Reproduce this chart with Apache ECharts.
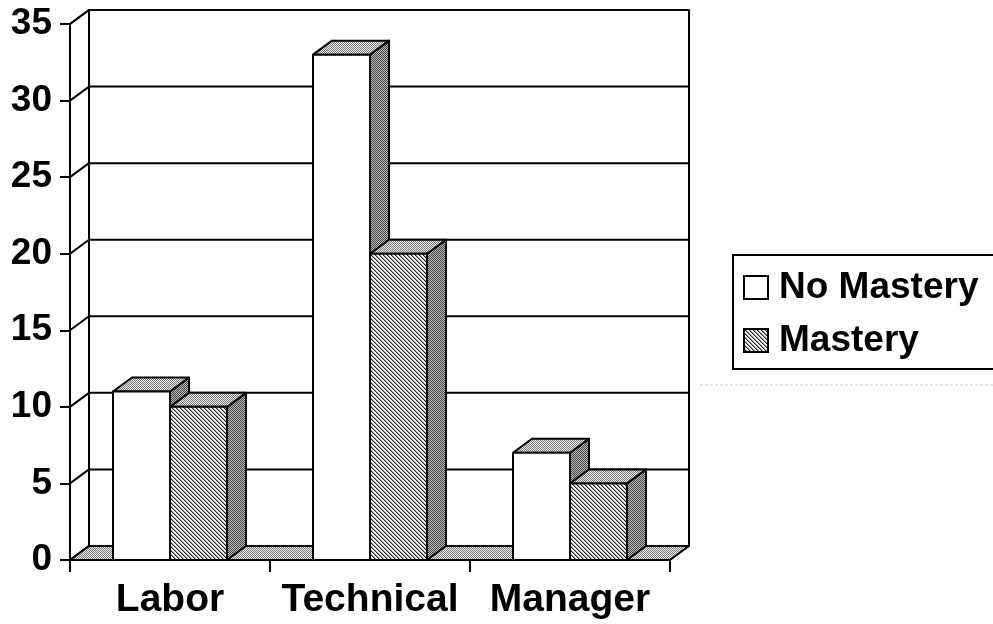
<!DOCTYPE html>
<html>
<head>
<meta charset="utf-8">
<script src="https://cdn.jsdelivr.net/npm/echarts@6/dist/echarts.min.js"></script>
<style>
html,body{margin:0;padding:0;background:#fff;}
#chart{width:993px;height:624px;}
</style>
</head>
<body>
<div id="chart"></div>
<script>
// ---- data ----
const categories = ['Labor', 'Technical', 'Manager'];
const seriesNames = ['No Mastery', 'Mastery'];
const noMastery = [11, 33, 7];
const mastery = [10, 20, 5];
const yTicks = [0, 5, 10, 15, 20, 25, 30, 35];

// ---- style constants ----
const FONT = "'Liberation Sans', Arial, sans-serif";
const DX = 19, DY = -14;          // 3D depth offset (px)
const BAR_FRAC = 0.285;           // bar width as fraction of band
const LW = 2;

function pattern(w, h, draw) {
  const c = document.createElement('canvas');
  c.width = w; c.height = h;
  const g = c.getContext('2d');
  draw(g);
  return { image: c, repeat: 'repeat' };
}
const hatch = pattern(4, 4, g => {
  g.fillStyle = '#f4f4f4'; g.fillRect(0, 0, 4, 4);
  for (let i = 0; i < 4; i++) {
    g.fillStyle = '#222'; g.fillRect(i, i, 1, 1);
    g.fillStyle = '#999'; g.fillRect((i + 1) % 4, i, 1, 1);
  }
});
const stippleDark = pattern(2, 2, g => {
  g.fillStyle = '#bbb'; g.fillRect(0, 0, 2, 2);
  g.fillStyle = '#444'; g.fillRect(0, 0, 1, 1); g.fillRect(1, 1, 1, 1);
});
const stippleLight = pattern(2, 2, g => {
  g.fillStyle = '#eee'; g.fillRect(0, 0, 2, 2);
  g.fillStyle = '#777'; g.fillRect(0, 0, 1, 1); g.fillRect(1, 1, 1, 1);
});

const frontFill = ['#ffffff', hatch];

function poly(points, fill) {
  return { type: 'polygon', shape: { points }, style: { fill, stroke: '#000', lineWidth: LW, lineJoin: 'round' } };
}
function line(x1, y1, x2, y2) {
  return { type: 'line', shape: { x1, y1, x2, y2 }, style: { stroke: '#000', lineWidth: LW } };
}

function renderFrame(params, api) {
  const bw = api.size([1, 0])[0];
  const xL = api.coord([0, 0])[0] - bw / 2;
  const xR = api.coord([categories.length - 1, 0])[0] + bw / 2;
  const y0 = api.coord([0, yTicks[0]])[1];
  const yT = api.coord([0, yTicks[yTicks.length - 1]])[1];
  const ch = [];
  // back wall
  ch.push(poly([[xL + DX, yT + DY], [xR + DX, yT + DY], [xR + DX, y0 + DY], [xL + DX, y0 + DY]], '#fff'));
  // side wall
  ch.push(poly([[xL, yT], [xL + DX, yT + DY], [xL + DX, y0 + DY], [xL, y0]], '#fff'));
  yTicks.forEach(t => {
    const y = api.coord([0, t])[1];
    ch.push(line(xL + DX, y + DY, xR + DX, y + DY));
    ch.push(line(xL, y, xL + DX, y + DY));
  });
  // floor
  ch.push(poly([[xL, y0], [xR, y0], [xR + DX, y0 + DY], [xL + DX, y0 + DY]], stippleLight));
  return { type: 'group', children: ch };
}

function makeBarRenderer(sIdx) {
  return function (params, api) {
    const cat = api.value(0), v = api.value(1);
    const top = api.coord([cat, v]);
    const base = api.coord([cat, 0]);
    const bw = api.size([1, 0])[0];
    const w = bw * BAR_FRAC;
    const x0 = sIdx === 0 ? top[0] - w : top[0];
    const x1 = x0 + w;
    const yv = top[1], y0 = base[1];
    return {
      type: 'group',
      children: [
        poly([[x1, yv], [x1 + DX, yv + DY], [x1 + DX, y0 + DY], [x1, y0]], stippleDark),
        poly([[x0, yv], [x1, yv], [x1 + DX, yv + DY], [x0 + DX, yv + DY]], stippleLight),
        poly([[x0, yv], [x1, yv], [x1, y0], [x0, y0]], frontFill[sIdx])
      ]
    };
  };
}

const chart = echarts.init(document.getElementById('chart'), null, { renderer: 'canvas' });
chart.setOption({
  animation: false,
  backgroundColor: '#fff',
  grid: { left: 70, right: 323, top: 24, bottom: 64, containLabel: false },
  xAxis: {
    type: 'category',
    data: categories,
    axisLine: { show: true, lineStyle: { color: '#000', width: LW } },
    axisTick: { show: true, interval: 0, length: 12, lineStyle: { color: '#000', width: LW } },
    axisLabel: { interval: 0, hideOverlap: false, margin: 21, color: '#000', fontFamily: FONT, fontWeight: 'bold', fontSize: 39 },
    splitLine: { show: false }
  },
  yAxis: {
    type: 'value',
    min: yTicks[0], max: yTicks[yTicks.length - 1], interval: 5,
    axisLine: { show: true, lineStyle: { color: '#000', width: LW } },
    axisTick: { show: true, length: 10, lineStyle: { color: '#000', width: LW } },
    axisLabel: { margin: 18, color: '#000', fontFamily: FONT, fontWeight: 'bold', fontSize: 37 },
    splitLine: { show: false }
  },
  legend: {
    orient: 'vertical',
    left: 733, top: 255,
    padding: [12, 60, 8, 10],
    borderColor: '#000', borderWidth: 2,
    itemWidth: 24, itemHeight: 23, itemGap: 12,
    selectedMode: false,
    textStyle: { fontFamily: FONT, fontWeight: 'bold', fontSize: 37, color: '#000', lineHeight: 41, padding: [0, 0, 0, 6] },
    data: [
      { name: seriesNames[0], icon: 'rect', itemStyle: { color: '#fff', borderColor: '#000', borderWidth: 2 } },
      { name: seriesNames[1], icon: 'rect', itemStyle: { color: hatch, borderColor: '#000', borderWidth: 2 } }
    ]
  },
  graphic: [{ type: 'line', shape: { x1: 700, y1: 385, x2: 993, y2: 385 }, style: { stroke: '#ccc', lineWidth: 1, lineDash: [3, 2] }, silent: true }],
  series: [
    { type: 'custom', name: '__frame', renderItem: renderFrame, data: [[0, 0]], silent: true, z: 1, legendHoverLink: false },
    { type: 'custom', name: seriesNames[0], renderItem: makeBarRenderer(0), data: noMastery.map((v, i) => [i, v]), z: 2, itemStyle: { color: '#fff', borderColor: '#000' }, encode: { x: 0, y: 1 } },
    { type: 'custom', name: seriesNames[1], renderItem: makeBarRenderer(1), data: mastery.map((v, i) => [i, v]), z: 3, itemStyle: { color: hatch, borderColor: '#000' }, encode: { x: 0, y: 1 } }
  ]
});
</script>
</body>
</html>
